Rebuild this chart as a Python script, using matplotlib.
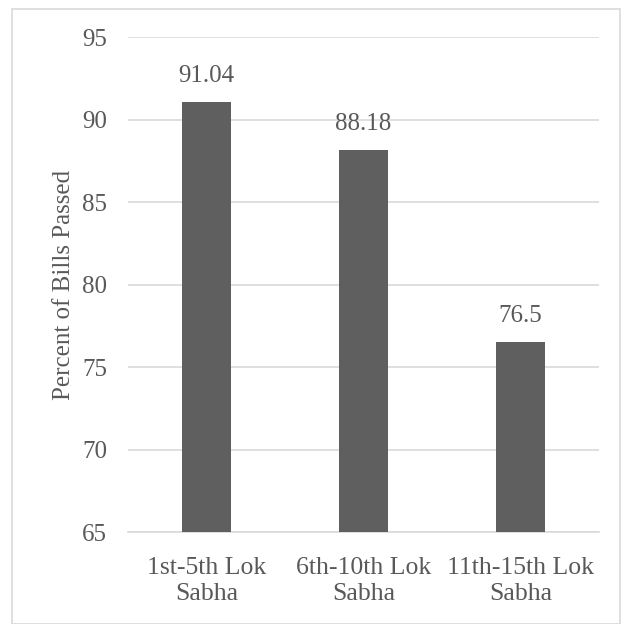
import matplotlib.pyplot as plt
from matplotlib.patches import Rectangle

categories = ["1st-5th Lok\nSabha", "6th-10th Lok\nSabha", "11th-15th Lok\nSabha"]
values = [91.04, 88.18, 76.5]
value_labels = ["91.04", "88.18", "76.5"]
yticks = [65, 70, 75, 80, 85, 90, 95]

plt.rcParams['font.family'] = ['Liberation Serif', 'DejaVu Serif']
text_color = "#595959"

fig = plt.figure(figsize=(6.28, 6.24), dpi=100)
ax = fig.add_axes([0.2038, 0.1474, 0.75, 0.7933])

# outer chart frame
fig.patches.append(Rectangle((12 / 628, 0), 608 / 628, 1 - 9 / 624, transform=fig.transFigure,
                             fill=False, edgecolor="#d9d9d9", linewidth=1.2))

x = range(len(categories))
bars = ax.bar(x, values, width=0.31, color="#5f5f5f", zorder=3)

for bar, lab in zip(bars, value_labels):
    ax.text(bar.get_x() + bar.get_width() / 2, bar.get_height() + 0.9, lab,
            ha="center", va="bottom", fontsize=18, color=text_color)

ax.set_ylim(65, 95)
ax.set_xlim(-0.5, 2.5)
ax.set_yticks(yticks)
ax.set_xticks(list(x))
ax.set_xticklabels(categories, fontsize=18.5, color=text_color, linespacing=1.25)
ax.tick_params(axis="y", labelsize=18, labelcolor=text_color, length=0, pad=15)
ax.tick_params(axis="x", length=0, pad=18)
ax.grid(axis="y", color="#d9d9d9", linewidth=1.2, zorder=0)
for s in ["top", "right", "left"]:
    ax.spines[s].set_visible(False)
ax.spines["bottom"].set_color("#d9d9d9")
ax.spines["bottom"].set_linewidth(1.2)

ax.set_ylabel("Percent of Bills Passed", fontsize=18, color=text_color, labelpad=5)

fig.savefig("out.png")
